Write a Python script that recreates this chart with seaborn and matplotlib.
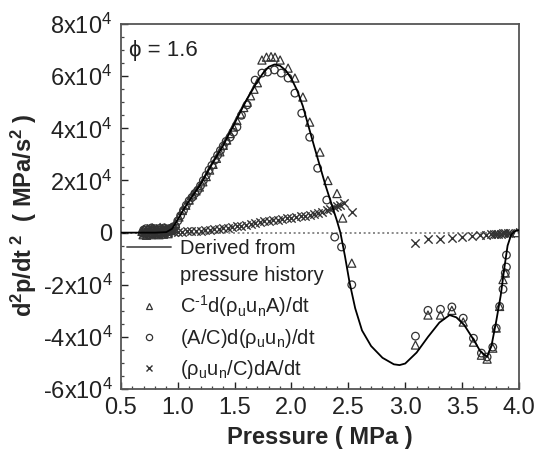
import matplotlib
matplotlib.use("Agg")
import matplotlib.pyplot as plt
import seaborn as sns
import numpy as np
import pandas as pd
from matplotlib.lines import Line2D
from matplotlib.ticker import FuncFormatter, MultipleLocator

# ---------------- data (y in units of 1e4 MPa/s^2) ----------------
curve_x = [0.50, 0.60, 0.70, 0.80, 0.90, 0.95, 1.00, 1.05, 1.10, 1.20, 1.30, 1.40,
           1.50, 1.60, 1.70, 1.75, 1.80, 1.85, 1.90, 1.95, 2.00, 2.05, 2.10, 2.20,
           2.30, 2.40, 2.43, 2.47, 2.51, 2.56, 2.62, 2.70, 2.80, 2.90, 2.95, 3.00,
           3.10, 3.20, 3.30, 3.39, 3.45, 3.52, 3.60, 3.66, 3.72, 3.76, 3.80, 3.84,
           3.87, 3.90, 3.93, 3.96, 4.00]
curve_y = [0.00, 0.00, 0.00, 0.00, 0.02, 0.15, 0.50, 0.88, 1.22, 1.85, 2.62, 3.35,
           4.20, 5.05, 5.80, 6.12, 6.36, 6.45, 6.40, 6.22, 5.90, 5.45, 4.85, 3.30,
           1.80, 0.45, 0.00, -0.90, -1.90, -2.90, -3.75, -4.35, -4.80, -5.05, -5.08, -5.02,
           -4.60, -4.00, -3.45, -3.16, -3.25, -3.55, -4.10, -4.55, -4.77, -4.30, -3.40, -2.40,
           -1.40, -0.50, -0.10, 0.05, 0.10]

tri_x = [0.685, 0.695, 0.705, 0.715, 0.725, 0.735, 0.745, 0.755, 0.765, 0.775, 0.785, 0.795,
         0.805, 0.815, 0.825, 0.835, 0.845, 0.855, 0.865, 0.875, 0.885, 0.895, 0.905, 0.915,
         0.925, 0.935, 0.945, 0.955, 0.965,
         0.98, 1.01, 1.04, 1.07, 1.10, 1.13, 1.16, 1.19, 1.22, 1.25, 1.28, 1.31, 1.34, 1.37,
         1.40, 1.43, 1.46, 1.49, 1.52, 1.55, 1.58, 1.61, 1.64, 1.67, 1.70,
         1.74, 1.78, 1.82, 1.855, 1.90, 1.97, 2.03, 2.10, 2.16, 2.25, 2.32, 2.40, 2.45, 2.53,
         3.09, 3.20, 3.31, 3.41, 3.51, 3.60, 3.67, 3.72, 3.77, 3.80, 3.83, 3.86, 3.88, 3.98]
tri_y = [0.05, -0.08, 0.12, 0.00, -0.10, 0.15, 0.02, 0.10, -0.08, 0.18, 0.00, 0.12,
         -0.05, 0.15, 0.05, -0.08, 0.20, 0.02, 0.12, -0.06, 0.18, 0.05, 0.10, -0.04,
         0.15, 0.08, 0.20, 0.15, 0.25,
         0.35, 0.60, 0.85, 1.05, 1.25, 1.45, 1.60, 1.75, 1.95, 2.15, 2.40, 2.62, 2.85, 3.10,
         3.35, 3.55, 3.80, 4.05, 4.30, 4.55, 4.80, 5.00, 5.25, 5.50, 5.75,
         6.62, 6.73, 6.75, 6.73, 6.62, 6.31, 5.93, 5.20, 4.24, 3.09, 2.00, 1.50, 0.56, -1.17,
         -4.31, -3.16, -3.16, -2.98, -3.43, -4.20, -4.70, -4.85, -4.43, -3.66, -2.83, -1.80, -1.55, 0.00]

cir_x = [0.69, 0.70, 0.71, 0.72, 0.73, 0.74, 0.75, 0.76, 0.77, 0.78, 0.79, 0.80, 0.81, 0.82,
         0.83, 0.84, 0.85, 0.86, 0.87, 0.88, 0.89, 0.90, 0.91, 0.92, 0.93, 0.94, 0.95, 0.96,
         0.98, 1.00, 1.025, 1.05, 1.075, 1.10, 1.125, 1.15, 1.175, 1.20, 1.225, 1.25, 1.275,
         1.30, 1.325, 1.35, 1.375, 1.40, 1.425, 1.46, 1.49, 1.52, 1.56, 1.61, 1.68,
         1.74, 1.79, 1.85, 1.91, 1.97, 2.03, 2.09, 2.16, 2.23, 2.31, 2.38, 2.44, 2.53,
         3.09, 3.20, 3.31, 3.41, 3.51, 3.60, 3.67, 3.72, 3.77, 3.80, 3.83, 3.86, 3.88, 3.89, 3.89]
cir_y = [0.00, 0.10, -0.05, 0.15, 0.02, -0.08, 0.12, 0.00, 0.18, -0.04, 0.08, 0.15, -0.06, 0.10,
         0.02, 0.16, -0.05, 0.12, 0.05, 0.18, -0.02, 0.10, 0.05, 0.15, 0.08, 0.12, 0.18, 0.22,
         0.25, 0.45, 0.65, 0.85, 1.05, 1.22, 1.35, 1.50, 1.62, 1.80, 2.00, 2.20, 2.40,
         2.58, 2.78, 2.97, 3.15, 3.32, 3.50, 3.66, 3.85, 4.05, 4.50, 4.90, 5.85,
         6.12, 6.16, 6.24, 6.12, 5.93, 5.35, 4.58, 3.66, 2.47, 1.25, -0.17, -0.55, -2.00,
         -3.97, -2.98, -2.94, -2.85, -3.28, -4.05, -4.62, -4.77, -4.39, -3.66, -2.83, -2.17, -1.55, -1.32, -0.86]

crs_x = [0.70, 0.73, 0.76, 0.79, 0.82, 0.85, 0.88, 0.91, 0.94, 0.97, 1.00, 1.04, 1.08, 1.12,
         1.16, 1.20, 1.24, 1.28, 1.32, 1.36, 1.40, 1.44, 1.48, 1.52, 1.56, 1.60, 1.64, 1.68,
         1.72, 1.76, 1.80, 1.84, 1.88, 1.92, 1.96, 2.00, 2.04, 2.08, 2.12, 2.16, 2.20, 2.23,
         2.27, 2.31, 2.34, 2.37, 2.40, 2.43, 2.46, 2.53,
         3.09, 3.20, 3.31, 3.41, 3.50, 3.59, 3.66, 3.71, 3.75, 3.78, 3.80, 3.82, 3.84, 3.86,
         3.88, 3.90, 3.92]
crs_y = [0.00, 0.05, -0.03, 0.02, 0.06, 0.00, 0.04, 0.02, 0.05, 0.03, 0.03, 0.04, 0.05, 0.06,
         0.07, 0.08, 0.10, 0.12, 0.13, 0.15, 0.17, 0.19, 0.22, 0.24, 0.27, 0.30, 0.33, 0.37,
         0.40, 0.43, 0.46, 0.48, 0.50, 0.52, 0.55, 0.57, 0.60, 0.63, 0.65, 0.67, 0.70, 0.75,
         0.80, 0.87, 0.92, 0.98, 1.02, 1.06, 1.13, 0.79,
         -0.41, -0.25, -0.25, -0.20, -0.17, -0.13, -0.10, -0.08, -0.07, -0.06, -0.05, -0.05, -0.04, -0.03,
         -0.03, -0.02, -0.02]

y_ticks = [-6, -4, -2, 0, 2, 4, 6, 8]
x_ticks = [0.5, 1.0, 1.5, 2.0, 2.5, 3.0, 3.5, 4.0]

# ---------------- style ----------------
sns.set_theme(style="white")
plt.rcParams['font.family'] = ['Liberation Sans', 'DejaVu Sans']
plt.rcParams['mathtext.fontset'] = 'custom'
plt.rcParams['mathtext.rm'] = 'Liberation Sans'
plt.rcParams['mathtext.it'] = 'Liberation Sans'
plt.rcParams['mathtext.bf'] = 'Liberation Sans:bold'

fig = plt.figure(figsize=(5.35, 4.54), dpi=100)
ax = fig.add_axes([0.226, 0.143, 0.744, 0.804])

mk_col = '#333333'
ax.axhline(0, color='#777777', lw=1.2, ls=(0, (1.2, 1.6)), zorder=1)

sns.lineplot(x=curve_x, y=curve_y, ax=ax, color='black', lw=1.3, sort=False, zorder=4)
sns.scatterplot(x=tri_x, y=tri_y, ax=ax, marker='^', s=34, facecolors='none',
                edgecolor=mk_col, linewidth=0.9, zorder=3)
sns.scatterplot(x=cir_x, y=cir_y, ax=ax, marker='o', s=30, facecolors='none',
                edgecolor=mk_col, linewidth=0.9, zorder=3)
sns.scatterplot(x=crs_x, y=crs_y, ax=ax, marker='x', s=36, color=mk_col,
                linewidth=1.0, zorder=3)

ax.set_xlim(0.5, 4.0)
ax.set_ylim(-6, 8)
ax.set_xticks(x_ticks)
ax.set_xticklabels([f"{v:.1f}" for v in x_ticks])
ax.set_yticks(y_ticks)
ax.yaxis.set_major_formatter(FuncFormatter(
    lambda v, p: "0" if abs(v) < 1e-9 else ("%dx10" % int(round(v))) + r"$^{4}$"))
ax.xaxis.set_minor_locator(MultipleLocator(0.1))
ax.yaxis.set_minor_locator(MultipleLocator(0.5))
ax.tick_params(axis='both', which='major', direction='in', length=5, width=1.0,
               labelsize=17, colors='#222222', pad=6, top=False, right=False,
               bottom=True, left=True)
ax.tick_params(axis='both', which='minor', direction='in', length=2.5, width=0.9,
               bottom=True, left=True, top=False, right=False, colors='#444444')
for sp in ax.spines.values():
    sp.set_color('#555555')
    sp.set_linewidth(1.3)

ax.set_xlabel("Pressure ( MPa )", fontsize=17, fontweight='bold', labelpad=5)
ax.set_ylabel(r"$\mathbf{d^{2}p/dt^{\ 2}\ \ (\ MPa/s^{2}\ )}$", fontsize=17)
ax.yaxis.set_label_coords(-0.207, 0.477)

ax.text(0.02, 0.955, "ϕ = 1.6", transform=ax.transAxes, fontsize=16,
        ha='left', va='top', color='#222222')

handles = [
    Line2D([], [], color='#555555', lw=1.3),
    Line2D([], [], color='none', lw=0),
    Line2D([], [], marker='^', ls='none', mfc='none', mec=mk_col, ms=5, mew=0.9),
    Line2D([], [], marker='o', ls='none', mfc='none', mec=mk_col, ms=4.5, mew=0.9),
    Line2D([], [], marker='x', ls='none', color=mk_col, ms=5, mew=1.0),
]
labels = [
    "Derived from",
    "pressure history",
    r"$\mathrm{C^{\text{-}1}d(\rho_{u}u_{n}A)/dt}$",
    r"$\mathrm{(A/C)d(\rho_{u}u_{n})/dt}$",
    r"$\mathrm{(\rho_{u}u_{n}/C)dA/dt}$",
]
leg = ax.legend(handles, labels, loc='upper left', bbox_to_anchor=(0.0, 0.428),
                frameon=False, fontsize=14.5, handlelength=2.2, handletextpad=0.45,
                labelspacing=0.4, borderaxespad=0.0, borderpad=0.3)
for t in leg.get_texts():
    t.set_color('#222222')

fig.savefig("out.png", dpi=100)
